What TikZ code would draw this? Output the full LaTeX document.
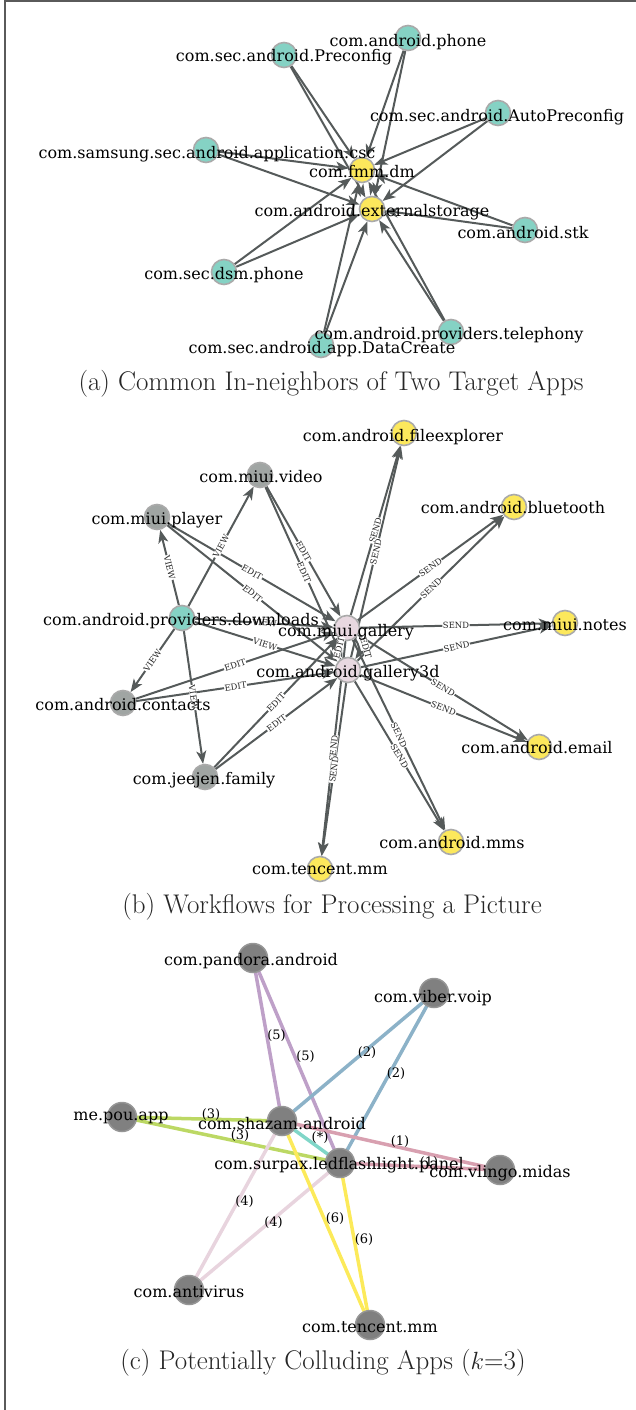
\documentclass[tikz,border=0pt]{standalone}
\usepackage{fontspec}
\newfontfamily\labfont{DejaVu Serif}
\usetikzlibrary{arrows.meta}
\pgfdeclarelayer{edges}
\pgfsetlayers{edges,main}
\definecolor{framecol}{RGB}{90,90,90}
\definecolor{edgecol}{RGB}{85,90,90}
\definecolor{bordercol}{RGB}{170,170,170}
\definecolor{tealfill}{RGB}{133,210,196}
\definecolor{yelfill}{RGB}{252,232,92}
\definecolor{grayfill}{RGB}{160,165,163}
\definecolor{pinkfill}{RGB}{232,216,224}
\definecolor{darkfill}{RGB}{128,128,128}
\definecolor{darkborder}{RGB}{150,150,150}
\definecolor{cpurple}{RGB}{190,160,200}
\definecolor{cblue}{RGB}{140,178,200}
\definecolor{cgreen}{RGB}{188,216,100}
\definecolor{cteal}{RGB}{128,214,200}
\definecolor{cpink}{RGB}{216,160,176}
\definecolor{clpink}{RGB}{232,212,222}
\definecolor{cyellow}{RGB}{252,234,90}
\begin{document}
\begin{tikzpicture}[x=1pt,y=-1pt,
  vtx/.style={circle,inner sep=0pt,minimum size=25pt,draw=bordercol,line width=1.6pt},
  tealv/.style={vtx,fill=tealfill},
  yelv/.style={vtx,fill=yelfill},
  grayv/.style={vtx,fill=grayfill},
  pinkv/.style={vtx,fill=pinkfill},
  darkv/.style={circle,inner sep=0pt,minimum size=29pt,fill=darkfill,draw=darkborder,line width=1.5pt},
  lab/.style={font=\labfont\fontsize{16}{16}\selectfont,inner sep=0pt},
  arr/.style={draw=edgecol,line width=2pt,-{Stealth[length=13pt,width=10pt,inset=3.5pt]}},
  elab/.style={font=\labfont\fontsize{8.5}{8.5}\selectfont,fill=white,inner sep=0.4pt,sloped,text=black!85},
  cedge/.style={line width=3.5pt},
  clab/.style={font=\labfont\fontsize{13}{13}\selectfont,inner sep=0pt,xshift=9pt,yshift=4pt},
  captext/.style={font=\fontsize{27}{31}\selectfont,text=black!85,inner sep=0pt}
]
\useasboundingbox (0,0) rectangle (636,1410);
\draw[framecol,line width=1.5pt] (5,1410) -- (5,1) -- (636,1);

% ---------------- panel (a)
\node[tealv] (a1) at (284,55) {};
\node[tealv] (a2) at (408,38) {};
\node[tealv] (a3) at (498,113) {};
\node[tealv] (a4) at (206,150) {};
\node[tealv] (a5) at (525,230) {};
\node[tealv] (a6) at (224,272) {};
\node[tealv] (a7) at (321,345) {};
\node[tealv] (a8) at (451,332) {};
\node[yelv] (t1) at (362,170) {};
\node[yelv] (t2) at (372,209) {};
\begin{pgfonlayer}{edges}
\foreach \s in {a1,a2,a3,a4,a5,a6,a7,a8}{
  \draw[arr] (\s) -- (t1);
  \draw[arr] (\s) -- (t2);
}
\end{pgfonlayer}
\node[lab] (la1) at (284,57) {com.sec.android.Preconfig};
\node[lab] (la2) at (408,42) {com.android.phone};
\node[lab] (la3) at (497,117) {com.sec.android.AutoPreconfig};
\node[lab] (la4) at (207,154) {com.samsung.sec.android.application.csc};
\node[lab] (lt1) at (362,172) {com.fmm.dm};
\node[lab] (lt2) at (372,212) {com.android.externalstorage};
\node[lab] (la5) at (523,233) {com.android.stk};
\node[lab] (la6) at (224,275) {com.sec.dsm.phone};
\node[lab] (la7) at (322,349) {com.sec.android.app.DataCreate};
\node[lab] (la8) at (449,335) {com.android.providers.telephony};
\node[captext] (capa) at (331,384) {(a) Common In-neighbors of Two Target Apps};

% ---------------- panel (b)
\node[yelv] (bfe) at (404,433) {};
\node[grayv] (bvi) at (260,475) {};
\node[yelv] (bbt) at (514,507) {};
\node[grayv] (bpl) at (157,517) {};
\node[tealv] (bdl) at (182,618) {};
\node[pinkv] (bga) at (347,628) {};
\node[yelv] (bno) at (565,623) {};
\node[pinkv] (bg3) at (348,670) {};
\node[grayv] (bco) at (123,703) {};
\node[yelv] (bem) at (539,747) {};
\node[grayv] (bje) at (205,777) {};
\node[yelv] (bmm) at (451,842) {};
\node[yelv] (btc) at (320,869) {};
\begin{pgfonlayer}{edges}
\foreach \t in {bpl,bvi,bco,bje,bga,bg3}{ \draw[arr] (bdl) -- (\t); }
\foreach \s in {bpl,bvi,bco,bje}{ \draw[arr] (\s) -- (bga); \draw[arr] (\s) -- (bg3); }
\foreach \t in {bfe,bbt,bno,bem,bmm,btc}{ \draw[arr] (bga) -- (\t); \draw[arr] (bg3) -- (\t); }
\draw[arr] (bga) to[bend left=35] (bg3);
\draw[arr] (bg3) to[bend left=35] (bga);
\end{pgfonlayer}
\foreach \t in {bpl,bvi,bco,bje,bga,bg3}{ \path (bdl) -- node[elab]{VIEW} (\t); }
\foreach \s in {bpl,bvi,bco,bje}{ \path (\s) -- node[elab]{EDIT} (bga); \path (\s) -- node[elab]{EDIT} (bg3); }
\foreach \t in {bfe,bbt,bno,bem,bmm,btc}{ \path (bga) -- node[elab]{SEND} (\t); \path (bg3) -- node[elab]{SEND} (\t); }
\node[elab,rotate=-75] (egg1) at (366,648) {EDIT};
\node[elab,rotate=75] (egg2) at (339,648) {EDIT};
\node[lab] (lbfe) at (403,437) {com.android.fileexplorer};
\node[lab] (lbvi) at (261,477) {com.miui.video};
\node[lab] (lbbt) at (513,508) {com.android.bluetooth};
\node[lab] (lbpl) at (157,520) {com.miui.player};
\node[lab] (lbdl) at (181,621) {com.android.providers.downloads};
\node[lab] (lbga) at (346,632) {com.miui.gallery};
\node[lab] (lbno) at (565,625) {com.miui.notes};
\node[lab] (lbg3) at (348,673) {com.android.gallery3d};
\node[lab] (lbco) at (123,705) {com.android.contacts};
\node[lab] (lbem) at (537,748) {com.android.email};
\node[lab] (lbje) at (204,780) {com.jeejen.family};
\node[lab] (lbmm) at (452,843) {com.android.mms};
\node[lab] (lbtc) at (320,869) {com.tencent.mm};
\node[captext] (capb) at (332,907) {(b) Workflows for Processing a Picture};

% ---------------- panel (c)
\node[darkv] (cpa) at (253,958) {};
\node[darkv] (cvi) at (434,993) {};
\node[darkv] (cpo) at (122,1117) {};
\node[darkv] (csh) at (282,1121) {};
\node[darkv] (csu) at (340,1163) {};
\node[darkv] (cvl) at (500,1170) {};
\node[darkv] (can) at (189,1290) {};
\node[darkv] (ctc) at (370,1325) {};
\begin{pgfonlayer}{edges}
\draw[cedge,cpurple] (cpa.center) -- (csh.center);
\draw[cedge,cpurple] (cpa.center) -- (csu.center);
\draw[cedge,cblue] (cvi.center) -- (csh.center);
\draw[cedge,cblue] (cvi.center) -- (csu.center);
\draw[cedge,cgreen] (cpo.center) -- (csh.center);
\draw[cedge,cgreen] (cpo.center) -- (csu.center);
\draw[cedge,cteal] (csh.center) -- (csu.center);
\draw[cedge,cpink] (csh.center) -- (cvl.center);
\draw[cedge,cpink] (csu.center) -- (cvl.center);
\draw[cedge,clpink] (csh.center) -- (can.center);
\draw[cedge,clpink] (csu.center) -- (can.center);
\draw[cedge,cyellow] (csh.center) -- (ctc.center);
\draw[cedge,cyellow] (csu.center) -- (ctc.center);
\end{pgfonlayer}
\path (cpa.center) -- node[clab]{(5)} (csh.center);
\path (cpa.center) -- node[clab]{(5)} (csu.center);
\path (cvi.center) -- node[clab]{(2)} (csh.center);
\path (cvi.center) -- node[clab]{(2)} (csu.center);
\path (cpo.center) -- node[clab]{(3)} (csh.center);
\path (cpo.center) -- node[clab]{(3)} (csu.center);
\path (csh.center) -- node[clab]{(*)} (csu.center);
\path (csh.center) -- node[clab]{(1)} (cvl.center);
\path (csu.center) -- node[clab]{(1)} (cvl.center);
\path (csh.center) -- node[clab]{(4)} (can.center);
\path (csu.center) -- node[clab]{(4)} (can.center);
\path (csh.center) -- node[clab]{(6)} (ctc.center);
\path (csu.center) -- node[clab]{(6)} (ctc.center);
\node[lab] (lcpa) at (251,961) {com.pandora.android};
\node[lab] (lcvi) at (433,998) {com.viber.voip};
\node[lab] (lcpo) at (121,1118) {me.pou.app};
\node[lab] (lcsh) at (282,1124) {com.shazam.android};
\node[lab] (lcsu) at (339,1165) {com.surpax.ledflashlight.panel};
\node[lab] (lcvl) at (500,1173) {com.vlingo.midas};
\node[lab] (lcan) at (189,1292) {com.antivirus};
\node[lab] (lctc) at (370,1327) {com.tencent.mm};
\node[captext] (capc) at (323,1363) {(c) Potentially Colluding Apps ($k$=3)};
\end{tikzpicture}
\end{document}
